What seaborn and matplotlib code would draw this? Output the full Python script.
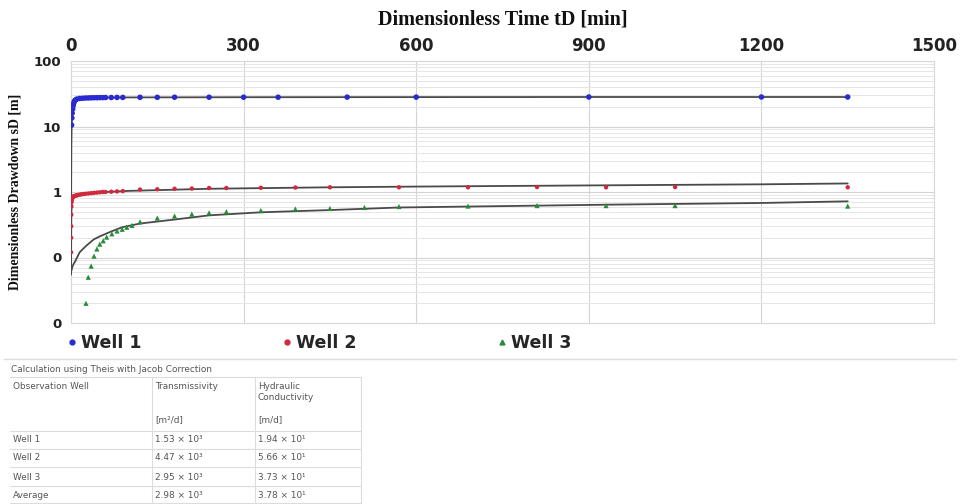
import numpy as np
import pandas as pd
import matplotlib
matplotlib.use("Agg")
import matplotlib.pyplot as plt
from matplotlib.lines import Line2D
from matplotlib.ticker import FixedLocator, FuncFormatter, LogLocator, NullFormatter
import seaborn as sns

# ---------------- data ----------------
t_well1 = [1, 1.5, 2, 3, 4, 5, 6, 8, 10, 15, 20, 25, 30, 35, 40, 45, 50, 55, 60, 70, 80, 90,
           120, 150, 180, 240, 300, 360, 480, 600, 900, 1200, 1350]
s_well1 = [10.5, 13.5, 16, 18.5, 21, 23, 24.5, 25.5, 26.2, 26.8, 27, 27.2, 27.3, 27.4, 27.5, 27.5,
           27.6, 27.6, 27.7, 27.7, 27.8, 27.8, 27.9, 27.9, 28, 28, 28, 28, 28.1, 28.1, 28.2, 28.2, 28.2]

t_well2 = [0.1, 0.2, 0.3, 0.5, 0.7, 1, 1.5, 2, 3, 4, 5, 6, 8, 10, 12, 15, 18, 21, 25, 30, 35, 40,
           45, 50, 55, 60, 70, 80, 90, 120, 150, 180, 210, 240, 270, 330, 390, 450, 570, 690, 810,
           930, 1050, 1350]
s_well2 = [0.12, 0.2, 0.3, 0.45, 0.6, 0.7, 0.76, 0.8, 0.83, 0.85, 0.86, 0.87, 0.88, 0.89, 0.9, 0.91,
           0.92, 0.93, 0.94, 0.95, 0.96, 0.97, 0.98, 0.99, 1.0, 1.0, 1.01, 1.02, 1.03, 1.09, 1.1, 1.12,
           1.13, 1.15, 1.15, 1.16, 1.17, 1.18, 1.18, 1.18, 1.19, 1.18, 1.19, 1.18]

t_well3 = [26, 30, 35, 40, 45, 50, 56, 62, 71, 80, 89, 97, 106, 120, 150, 180, 210, 240, 270, 330,
           390, 450, 510, 570, 690, 810, 930, 1050, 1350]
s_well3 = [0.02, 0.05, 0.074, 0.105, 0.135, 0.16, 0.18, 0.205, 0.23, 0.254, 0.27, 0.29, 0.31, 0.35,
           0.40, 0.43, 0.46, 0.48, 0.50, 0.52, 0.55, 0.56, 0.58, 0.60, 0.61, 0.62, 0.62, 0.62, 0.61]

# fitted (Theis) curves
tfit_well1 = [0, 0.3, 0.6, 1, 2, 3, 5, 8, 12, 20, 40, 100, 300, 600, 900, 1200, 1350]
sfit_well1 = [0.055, 1.5, 5, 9, 16, 20, 24, 25.8, 26.6, 27.1, 27.5, 27.8, 28, 28.1, 28.2, 28.2, 28.2]

tfit_well2 = [0, 0.5, 1, 2, 4, 8, 15, 30, 60, 100, 240, 450, 600, 900, 1200, 1350]
sfit_well2 = [0.055, 0.4, 0.6, 0.75, 0.83, 0.88, 0.92, 0.96, 1.0, 1.04, 1.12, 1.18, 1.21, 1.26, 1.31, 1.35]

tfit_well3 = [0, 3, 8, 15, 26, 40, 50, 70, 89, 120, 180, 240, 330, 450, 570, 930, 1200, 1350]
sfit_well3 = [0.06, 0.075, 0.09, 0.12, 0.15, 0.19, 0.21, 0.25, 0.29, 0.33, 0.38, 0.44, 0.49, 0.53,
              0.58, 0.64, 0.68, 0.72]

series_names = ["Well 1", "Well 2", "Well 3"]
x_ticks = [0, 300, 600, 900, 1200, 1500]
y_ticks = [0.01, 0.1, 1, 10, 100]

table_title = "Calculation using Theis with Jacob Correction"
table_header = ["Observation Well", "Transmissivity", "Hydraulic\nConductivity"]
table_units = ["", "[m²/d]", "[m/d]"]
table_wells = ["Well 1", "Well 2", "Well 3", "Average"]
table_transmissivity = ["1.53 × 10³", "4.47 × 10³", "2.95 × 10³", "2.98 × 10³"]
table_conductivity = ["1.94 × 10¹", "5.66 × 10¹", "3.73 × 10¹", "3.78 × 10¹"]

# ---------------- styling ----------------
colors = {"Well 1": "#2a2ad0", "Well 2": "#d0283c", "Well 3": "#2a8a3a"}
markers = {"Well 1": "o", "Well 2": "o", "Well 3": "^"}
msize = {"Well 1": 16, "Well 2": 10, "Well 3": 14}
fit_color = "#4a4a4a"

sns.set_theme(style="white")
plt.rcParams["font.family"] = ["DejaVu Sans"]

fig = plt.figure(figsize=(9.6, 5.04), dpi=100)
W, H = 960, 504
ax = fig.add_axes([71 / W, 1 - 323 / H, (934 - 71) / W, (323 - 61) / H])

pts = pd.concat([
    pd.DataFrame({"t": t_well1, "s": s_well1, "well": "Well 1"}),
    pd.DataFrame({"t": t_well2, "s": s_well2, "well": "Well 2"}),
    pd.DataFrame({"t": t_well3, "s": s_well3, "well": "Well 3"}),
])
fits = pd.concat([
    pd.DataFrame({"t": tfit_well1, "s": sfit_well1, "well": "Well 1"}),
    pd.DataFrame({"t": tfit_well2, "s": sfit_well2, "well": "Well 2"}),
    pd.DataFrame({"t": tfit_well3, "s": sfit_well3, "well": "Well 3"}),
])

ax.set_yscale("log")
for name in series_names:
    sub = fits[fits.well == name]
    sns.lineplot(data=sub, x="t", y="s", ax=ax, color=fit_color, lw=1.3,
                 sort=False, estimator=None, legend=False, zorder=3)
for name in series_names:
    sub = pts[pts.well == name]
    sns.scatterplot(data=sub, x="t", y="s", ax=ax, color=colors[name], marker=markers[name],
                    s=msize[name], edgecolor="none", legend=False, zorder=4)

ax.set_xlim(0, 1500)
ax.set_ylim(0.01, 100)

ax.xaxis.tick_top()
ax.xaxis.set_label_position("top")
ax.xaxis.set_major_locator(FixedLocator(x_ticks))
ax.set_xticklabels([str(v) for v in x_ticks], fontweight="bold", fontsize=12, color="#222222")
ax.yaxis.set_major_locator(FixedLocator(y_ticks))
ax.yaxis.set_major_formatter(FuncFormatter(lambda v, p: f"{v:.0f}"))
ax.yaxis.set_minor_locator(LogLocator(base=10, subs=np.arange(2, 10)))
ax.yaxis.set_minor_formatter(NullFormatter())
for lab in ax.get_yticklabels():
    lab.set_fontweight("bold")
    lab.set_fontsize(9.5)
    lab.set_color("#222222")

ax.tick_params(axis="x", which="both", length=0, pad=4)
ax.tick_params(axis="y", which="major", length=4, color="#bbbbbb", pad=3)
ax.tick_params(axis="y", which="minor", length=0)

ax.set_xlabel("Dimensionless Time tD [min]", fontfamily="Liberation Serif", fontweight="bold",
              fontsize=14.5, labelpad=9, color="#111111")
ax.set_ylabel("Dimensionless Drawdown sD [m]", fontfamily="Liberation Serif", fontweight="bold",
              fontsize=10, labelpad=9, color="#111111")

ax.grid(True, axis="y", which="major", color="#d4d4d4", lw=0.8)
ax.grid(True, axis="y", which="minor", color="#e6e6e6", lw=0.7)
ax.grid(True, axis="x", which="major", color="#d4d4d4", lw=0.8)
for sp in ax.spines.values():
    sp.set_color("#d8d8d8")
    sp.set_linewidth(0.8)

# legend
handles = [Line2D([], [], ls="none", marker=markers[n], color=colors[n], markersize=3.5)
           for n in series_names]
fig.legend(handles, series_names, ncol=3, loc="center left",
           bbox_to_anchor=(67 / W, 1 - 343 / H), frameon=False,
           prop={"weight": "bold", "size": 12.5}, handlelength=0.6, handletextpad=0.2,
           columnspacing=8.1, borderaxespad=0, borderpad=0)

# separator line under the legend
fig.add_artist(Line2D([4 / W, 956 / W], [1 - 359 / H, 1 - 359 / H], color="#dddddd", lw=1.0))

# ---------------- table ----------------
tcol = "#555555"
fs = 6.4
fig.text(11 / W, 1 - 369 / H, table_title, fontsize=fs, color=tcol, va="center")
col_x = [10, 152, 255, 361]
hlines_y = [377, 431, 449, 467, 486, 503]
for y in hlines_y:
    fig.add_artist(Line2D([col_x[0] / W, col_x[-1] / W], [1 - y / H, 1 - y / H],
                          color="#dcdcdc", lw=0.8))
for x in col_x[1:]:
    fig.add_artist(Line2D([x / W, x / W], [1 - 377 / H, 1 - 503 / H], color="#dcdcdc", lw=0.8))

for i, htxt in enumerate(table_header):
    fig.text((col_x[i] + 3) / W, 1 - 382 / H, htxt, fontsize=fs, color=tcol, va="top",
             linespacing=1.25)
for i, utxt in enumerate(table_units):
    if utxt:
        fig.text((col_x[i] + 3) / W, 1 - 420 / H, utxt, fontsize=fs, color=tcol, va="center")

row_y = [440, 458, 477, 495]
for r, y in enumerate(row_y):
    fig.text((col_x[0] + 3) / W, 1 - y / H, table_wells[r], fontsize=fs, color=tcol, va="center")
    fig.text((col_x[1] + 3) / W, 1 - y / H, table_transmissivity[r], fontsize=fs, color=tcol,
             va="center")
    fig.text((col_x[2] + 3) / W, 1 - y / H, table_conductivity[r], fontsize=fs, color=tcol,
             va="center")

fig.savefig("out.png", dpi=100, facecolor="white")
